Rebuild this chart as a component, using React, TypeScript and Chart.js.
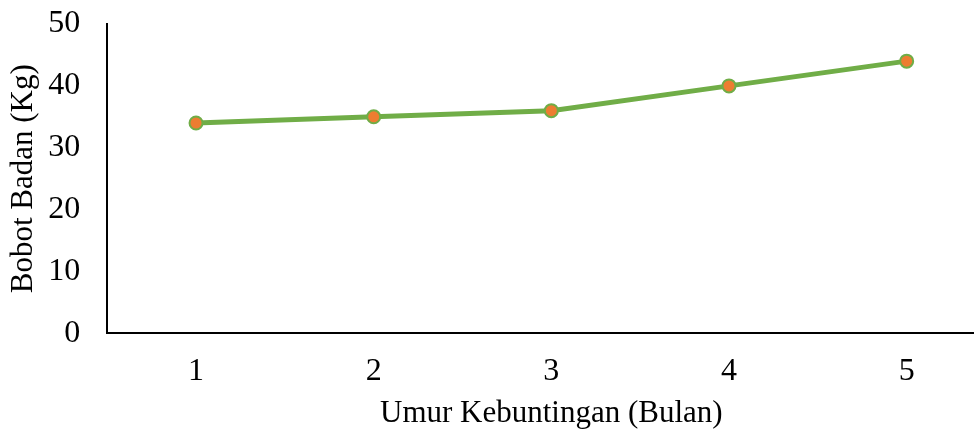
import React, { useEffect, useRef } from "react";
import { Chart, registerables } from "chart.js";

Chart.register(...registerables);

const categories = ["1", "2", "3", "4", "5"];
const bobotBadan = [34, 35, 36, 40, 44];
const yTicks = [0, 10, 20, 30, 40, 50];

const FONT = "'Liberation Serif', 'Times New Roman', serif";

export default function App() {
  const ref = useRef<HTMLCanvasElement | null>(null);

  useEffect(() => {
    if (!ref.current) return;
    const chart = new Chart(ref.current, {
      type: "line",
      data: {
        labels: categories,
        datasets: [
          {
            label: "Bobot Badan",
            data: bobotBadan,
            borderColor: "#70AD47",
            borderWidth: 5,
            pointBackgroundColor: "#ED7D31",
            pointBorderColor: "#70AD47",
            pointBorderWidth: 2,
            pointRadius: 6.5,
            tension: 0,
          },
        ],
      },
      options: {
        animation: false,
        responsive: false,
        maintainAspectRatio: false,
        layout: { padding: { top: 24, right: 1, bottom: 0, left: 0 } },
        plugins: { legend: { display: false }, tooltip: { enabled: false } },
        scales: {
          x: {
            offset: true,
            grid: {
              display: true,
              drawOnChartArea: false,
              drawTicks: true,
              tickLength: 19,
              tickColor: "rgba(0,0,0,0)",
            },
            border: { display: true, color: "#000", width: 2 },
            ticks: { color: "#000", font: { family: FONT, size: 32 }, padding: 0 },
            title: {
              display: true,
              text: "Umur Kebuntingan (Bulan)",
              color: "#000",
              font: { family: FONT, size: 31 },
              padding: { top: 4, bottom: 0 },
            },
          },
          y: {
            min: 0,
            max: 50,
            afterBuildTicks: (axis: any) => {
              axis.ticks = yTicks.map((v) => ({ value: v }));
            },
            grid: {
              display: true,
              drawOnChartArea: false,
              drawTicks: true,
              tickLength: 27,
              tickColor: "rgba(0,0,0,0)",
            },
            border: { display: true, color: "#000", width: 2 },
            ticks: { color: "#000", font: { family: FONT, size: 32 }, padding: 0 },
            title: {
              display: true,
              text: "Bobot Badan (Kg)",
              color: "#000",
              font: { family: FONT, size: 31 },
              padding: { top: 5, bottom: 6 },
            },
          },
        },
      },
    });
    return () => chart.destroy();
  }, []);

  return (
    <div
      style={{
        position: "fixed",
        left: 0,
        top: 0,
        width: 974,
        height: 432,
        overflow: "hidden",
        background: "#fff",
      }}
    >
      <canvas ref={ref} width={1004} height={432} style={{ display: "block" }} />
    </div>
  );
}
